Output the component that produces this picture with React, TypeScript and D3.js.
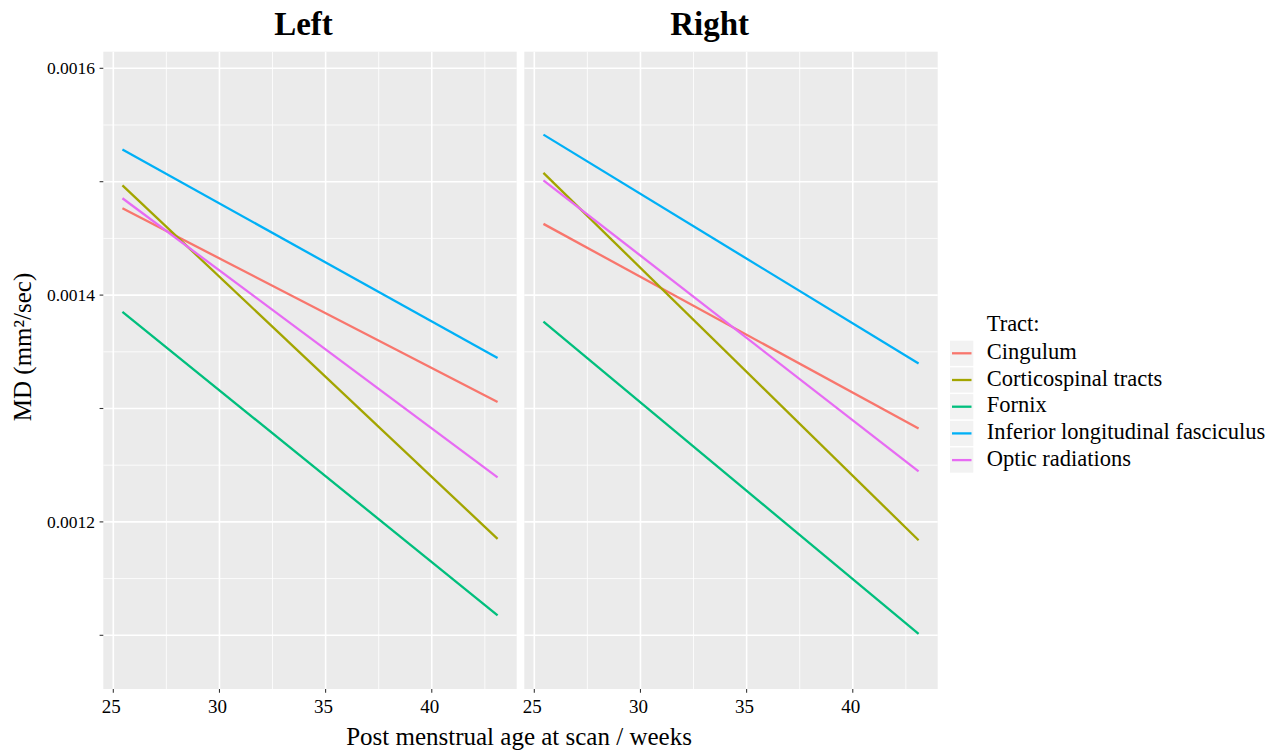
import * as d3 from "d3";

// tract order + ggplot hue colours
const tracts = [
  "Cingulum",
  "Corticospinal tracts",
  "Fornix",
  "Inferior longitudinal fasciculus",
  "Optic radiations",
];
const tractColors = ["#F8766D", "#A3A500", "#00BF7D", "#00B0F6", "#E76BF3"];

// fitted MD at the youngest and oldest scan age, per hemisphere
const ageRange = [25.43, 43.1];
const leftStart = [0.0014765, 0.0014968, 0.0013852, 0.0015283, 0.0014854];
const leftEnd = [0.0013058, 0.001185, 0.0011176, 0.0013446, 0.0012393];
const rightStart = [0.0014628, 0.0015078, 0.0013766, 0.0015415, 0.0015012];
const rightEnd = [0.0012823, 0.0011838, 0.0011012, 0.0013396, 0.0012446];

const xBreaks = [25, 30, 35, 40];
const xMinor = [27.5, 32.5, 37.5, 42.5];
const yBreaks = [0.0011, 0.0012, 0.0013, 0.0014, 0.0015, 0.0016];
const yLabels = ["", "0.0012", "", "0.0014", "", "0.0016"];
const yMinor = [0.00115, 0.00125, 0.00135, 0.00145, 0.00155];

const FONT = "'Liberation Serif', 'Times New Roman', serif";

const panelTop = 51.7;
const panelBottom = 689;
const panelW = 413.4;

const panels = [
  { title: "Left", x0: 103.3, titleX: 303.5, start: leftStart, end: leftEnd },
  { title: "Right", x0: 524.3, titleX: 709.7, start: rightStart, end: rightEnd },
];

export default function App() {
  const x = d3.scaleLinear().domain([24.529, 44.0]).range([0, panelW]);
  const y = d3.scaleLinear().domain([0.00105264, 0.00161464]).range([panelBottom, panelTop]);
  const line = d3
    .line<[number, number]>()
    .x((d) => x(d[0]))
    .y((d) => y(d[1]));

  return (
    <svg width={1283} height={756} style={{ position: "absolute", left: 0, top: 0 }} fontFamily={FONT}>
      <rect width={1283} height={756} fill="white" />
      {panels.map((p) => (
        <g key={p.title}>
          <text x={p.titleX} y={35} textAnchor="middle" fontSize={33} fontWeight="bold" fill="black">
            {p.title}
          </text>
          <g transform={`translate(${p.x0},0)`}>
            <rect x={0} y={panelTop} width={panelW} height={panelBottom - panelTop} fill="#EBEBEB" />
            {yMinor.map((v) => (
              <line key={"ym" + v} x1={0} x2={panelW} y1={y(v)} y2={y(v)} stroke="white" strokeWidth={0.8} />
            ))}
            {xMinor.map((v) => (
              <line key={"xm" + v} x1={x(v)} x2={x(v)} y1={panelTop} y2={panelBottom} stroke="white" strokeWidth={0.8} />
            ))}
            {yBreaks.map((v) => (
              <line key={"yb" + v} x1={0} x2={panelW} y1={y(v)} y2={y(v)} stroke="white" strokeWidth={1.6} />
            ))}
            {xBreaks.map((v) => (
              <line key={"xb" + v} x1={x(v)} x2={x(v)} y1={panelTop} y2={panelBottom} stroke="white" strokeWidth={1.6} />
            ))}
            {tracts.map((t, i) => (
              <path
                key={t}
                d={line([
                  [ageRange[0], p.start[i]],
                  [ageRange[1], p.end[i]],
                ]) as string}
                fill="none"
                stroke={tractColors[i]}
                strokeWidth={2.3}
              />
            ))}
            {/* x axis */}
            {xBreaks.map((v) => (
              <g key={"xt" + v}>
                <line x1={x(v)} x2={x(v)} y1={panelBottom} y2={panelBottom + 3.7} stroke="#333333" strokeWidth={1.07} />
                <text x={x(v) - 2} y={713} textAnchor="middle" fontSize={19} fill="black">
                  {v}
                </text>
              </g>
            ))}
          </g>
        </g>
      ))}
      {/* y axis, left panel only */}
      {yBreaks.map((v, i) => (
        <g key={"yt" + v}>
          <line x1={99.6} x2={103.3} y1={y(v)} y2={y(v)} stroke="#333333" strokeWidth={1.07} />
          <text x={95} y={y(v) + 6} textAnchor="end" fontSize={17.5} fill="black">
            {yLabels[i]}
          </text>
        </g>
      ))}
      <text x={519} y={745} textAnchor="middle" fontSize={25} fill="black">
        Post menstrual age at scan / weeks
      </text>
      <text transform="translate(31,347) rotate(-90)" textAnchor="middle" fontSize={25} fill="black">
        MD (mm²/sec)
      </text>
      {/* legend */}
      <text x={986.7} y={330.7} fontSize={22.5} fill="black">
        Tract:
      </text>
      {tracts.map((t, i) => {
        const cy = 353.3 + i * 26.7;
        return (
          <g key={"lg" + t}>
            <rect x={950} y={cy - 12.6} width={23.3} height={25.2} fill="#F2F2F2" />
            <line x1={952} x2={971.5} y1={cy} y2={cy} stroke={tractColors[i]} strokeWidth={2.3} />
            <text x={986.7} y={cy + 5.5} fontSize={22.5} fill="black">
              {t}
            </text>
          </g>
        );
      })}
    </svg>
  );
}
